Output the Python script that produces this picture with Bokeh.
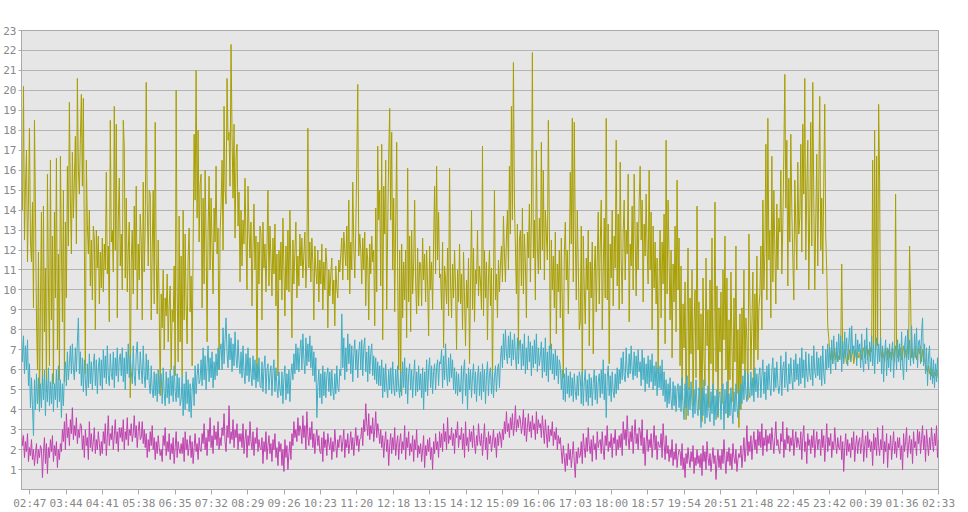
from bokeh.plotting import figure
from bokeh.models import Range1d, FixedTicker
from bokeh.embed import file_html
from bokeh.resources import INLINE

# ---------------- data ----------------
tick_labels = ["02:47", "03:44", "04:41", "05:38", "06:35", "07:32", "08:29", "09:26",
               "10:23", "11:20", "12:18", "13:15", "14:12", "15:09", "16:06", "17:03",
               "18:00", "18:57", "19:54", "20:51", "21:48", "22:45", "23:42", "00:39",
               "01:36", "02:33"]
y_ticks = list(range(1, 24))
start_time = "02:34"
span_minutes = 1439

olive = [
    15.1, 14.0, 20.2, 12.5, 15.2, 17.0, 11.4, 14.6, 18.1, 12.4, 11.4, 14.4, 9.1, 18.5, 13.9, 8.6, 6.0, 11.9, 4.0, 9.2,
    13.9, 5.2, 14.2, 7.9, 11.1, 4.9, 15.8, 10.3, 6.2, 16.5, 8.5, 12.7, 5.3, 13.9, 9.6, 16.6, 7.0, 11.8, 5.5, 16.7,
    12.0, 8.4, 15.0, 5.4, 13.4, 9.6, 16.2, 12.2, 19.4, 14.5, 11.8, 16.9, 13.6, 15.5, 17.7, 12.3, 20.6, 16.0, 14.8, 17.6,
    19.8, 15.2, 19.6, 12.3, 5.8, 16.5, 13.3, 11.8, 14.0, 10.2, 12.5, 9.5, 13.2, 12.6, 8.0, 13.0, 11.1, 12.7, 9.3, 11.9,
    10.1, 12.6, 9.9, 12.3, 11.0, 15.9, 10.8, 12.2, 8.4, 18.5, 12.4, 13.0, 10.9, 19.2, 12.0, 18.3, 8.6, 13.5, 15.6, 11.2,
    12.8, 10.0, 18.5, 17.2, 10.6, 14.6, 9.9, 12.0, 13.4, 4.6, 11.5, 13.0, 9.8, 14.2, 11.0, 15.2, 9.0, 12.3, 10.5, 13.8,
    12.5, 8.5, 15.4, 10.9, 13.2, 20.4, 14.4, 11.2, 15.0, 14.8, 8.5, 12.0, 15.0, 9.3, 18.4, 11.5, 8.8, 12.5, 9.2, 4.7,
    9.8, 8.1, 11.0, 7.0, 9.6, 8.7, 10.8, 7.4, 9.2, 10.2, 6.0, 9.0, 8.4, 11.2, 5.7, 20.0, 9.9, 6.4, 13.7, 7.4,
    11.7, 5.7, 14.0, 8.5, 12.8, 9.2, 7.3, 11.6, 13.1, 8.9, 10.7, 6.2, 12.3, 17.8, 14.5, 21.0, 13.6, 18.0, 12.4, 15.3,
    15.8, 9.1, 14.6, 10.3, 16.0, 12.5, 7.4, 13.0, 15.7, 11.0, 14.6, 12.2, 9.8, 14.1, 12.4, 16.2, 11.8, 13.1, 6.0, 12.8,
    14.3, 16.5, 12.0, 19.2, 15.0, 14.3, 20.6, 17.5, 17.9, 15.2, 22.3, 17.8, 14.6, 18.3, 12.6, 16.7, 17.3, 13.2, 14.9, 10.4,
    14.0, 11.2, 13.5, 12.3, 15.6, 12.5, 10.0, 15.2, 12.9, 11.6, 13.4, 9.2, 12.1, 14.3, 11.0, 12.7, 5.6, 12.4, 10.3, 13.2,
    12.8, 8.5, 13.4, 11.1, 12.3, 9.9, 12.1, 15.0, 10.2, 13.2, 11.5, 9.7, 12.6, 10.8, 13.3, 9.2, 11.8, 5.7, 12.0, 10.5,
    12.4, 9.5, 13.6, 11.0, 8.7, 12.2, 10.0, 13.0, 9.9, 14.0, 10.9, 7.6, 12.5, 10.3, 11.9, 13.4, 9.6, 11.7, 10.2, 12.8,
    11.2, 12.6, 10.6, 11.8, 12.9, 10.1, 11.5, 18.1, 11.1, 12.4, 10.4, 12.6, 11.3, 8.5, 12.2, 11.0, 10.3, 12.0, 9.4, 11.5,
    10.3, 12.3, 9.0, 11.4, 10.0, 12.1, 11.3, 8.1, 11.0, 9.7, 10.8, 11.6, 9.3, 10.5, 8.2, 11.2, 10.1, 9.6, 11.5, 10.9,
    11.8, 12.6, 10.5, 12.9, 12.0, 11.2, 13.2, 10.5, 14.5, 9.8, 12.4, 11.0, 15.4, 12.2, 10.6, 13.0, 16.3, 20.3, 11.7, 12.8,
    12.0, 10.3, 12.6, 11.0, 12.9, 9.2, 12.1, 11.5, 8.5, 12.3, 10.8, 12.7, 11.4, 12.0, 8.2, 14.1, 9.9, 17.2, 13.5, 15.0,
    10.2, 17.3, 7.5, 15.2, 12.8, 16.5, 9.0, 13.1, 16.7, 19.1, 13.5, 17.9, 11.0, 14.6, 8.9, 13.2, 17.4, 10.5, 6.0, 12.0,
    4.9, 12.3, 8.6, 11.4, 9.5, 12.0, 7.6, 16.1, 9.4, 12.7, 7.9, 13.0, 9.8, 11.3, 14.5, 10.4, 8.8, 12.1, 9.2, 11.4,
    11.3, 9.2, 12.6, 10.5, 11.8, 9.4, 12.0, 10.3, 7.7, 12.2, 10.0, 11.4, 9.0, 12.3, 15.2, 10.8, 16.2, 11.5, 13.9, 10.6,
    10.8, 9.0, 12.4, 7.1, 11.2, 10.5, 9.3, 12.1, 8.7, 16.1, 10.3, 8.6, 11.3, 9.6, 12.0, 10.2, 7.0, 11.0, 9.4, 12.3,
    9.3, 10.8, 8.0, 11.9, 9.6, 7.2, 10.5, 9.1, 11.6, 6.3, 10.2, 14.0, 9.0, 12.1, 8.4, 11.0, 10.3, 13.0, 9.7, 11.2,
    10.4, 9.0, 17.2, 8.7, 12.0, 9.6, 11.4, 7.5, 10.6, 12.0, 9.2, 11.1, 5.5, 10.3, 15.0, 9.5, 10.8, 8.6, 11.5, 9.9,
    11.3, 12.2, 10.4, 13.7, 11.8, 10.4, 12.6, 14.0, 11.0, 16.2, 12.8, 19.2, 13.5, 21.4, 14.4, 12.1, 9.8, 13.3, 7.0, 12.5,
    13.0, 10.2, 14.1, 9.8, 12.8, 11.3, 8.6, 12.9, 11.6, 14.3, 10.4, 13.5, 21.9, 11.6, 13.5, 9.5, 17.0, 12.2, 10.8, 13.6,
    11.0, 17.4, 12.0, 16.0, 10.5, 14.0, 12.8, 11.5, 18.5, 13.2, 7.0, 12.5, 10.0, 11.7, 9.1, 12.9, 7.8, 11.3, 9.9, 12.0,
    8.6, 12.6, 9.2, 5.6, 11.8, 13.4, 10.5, 12.0, 8.8, 11.6, 15.9, 12.3, 18.6, 10.4, 18.4, 12.7, 9.5, 14.0, 11.2, 8.0,
    8.4, 13.2, 5.2, 12.7, 10.1, 8.3, 11.6, 10.0, 13.0, 7.2, 11.4, 9.6, 12.4, 6.8, 10.9, 12.2, 8.9, 11.5, 13.9, 9.3,
    12.3, 14.5, 8.0, 11.0, 13.6, 9.6, 18.6, 9.5, 13.3, 6.3, 12.3, 10.6, 14.0, 9.2, 12.7, 11.1, 17.5, 10.2, 13.8, 9.0,
    16.4, 11.5, 9.3, 12.9, 14.5, 10.5, 13.0, 11.8, 15.8, 8.4, 12.3, 11.2, 14.2, 10.0, 15.8, 12.6, 9.7, 13.4, 11.0, 14.4,
    16.2, 12.5, 14.5, 9.4, 13.3, 11.7, 14.8, 12.0, 10.3, 16.0, 11.0, 13.9, 8.0, 13.2, 10.1, 12.4, 9.3, 11.6, 5.8, 10.5,
    13.0, 8.6, 12.4, 10.3, 13.8, 7.3, 17.5, 9.8, 14.5, 11.4, 8.5, 12.0, 6.6, 11.3, 9.4, 13.2, 7.9, 15.5, 10.0, 12.6,
    6.2, 11.2, 4.5, 9.3, 7.1, 10.4, 3.5, 8.5, 12.1, 5.0, 9.6, 6.8, 11.0, 4.2, 8.3, 10.0, 5.6, 14.2, 7.0, 9.4,
    4.0, 8.8, 3.4, 10.6, 6.5, 5.2, 11.6, 7.2, 9.0, 4.1, 10.5, 6.3, 12.6, 4.3, 8.0, 14.4, 5.9, 10.2, 3.6, 9.1,
    6.9, 9.9, 4.3, 11.0, 7.5, 12.7, 6.0, 10.6, 3.6, 8.5, 5.5, 10.9, 7.2, 4.4, 9.6, 6.4, 12.2, 4.8, 8.0, 3.1,
    8.8, 4.0, 9.1, 6.3, 11.0, 5.5, 8.6, 7.5, 4.5, 12.8, 9.5, 6.0, 8.3, 10.9, 5.1, 9.8, 7.0, 11.7, 6.5, 9.1,
    9.8, 12.2, 8.0, 14.5, 10.0, 11.9, 17.3, 9.5, 18.6, 11.5, 13.0, 8.6, 16.7, 10.4, 15.0, 12.1, 9.3, 14.3, 11.0, 13.6,
    12.9, 16.0, 10.8, 13.3, 16.8, 20.8, 14.1, 17.5, 10.2, 15.6, 12.4, 17.8, 14.0, 11.6, 9.5, 15.5, 13.2, 11.0, 16.4, 12.8,
    13.6, 17.3, 11.9, 18.3, 14.8, 20.6, 11.5, 15.0, 17.5, 10.0, 13.8, 18.4, 12.2, 20.4, 14.6, 10.0, 13.5, 16.8, 11.2, 15.2,
    19.7, 12.0, 14.6, 10.8, 15.4, 19.3, 12.7, 11.0, 8.2, 7.6, 6.9, 6.5, 7.0, 6.3, 6.8, 7.1, 6.5, 6.9, 6.4, 6.7,
    6.5, 7.0, 11.3, 6.8, 6.4, 7.0, 6.6, 6.3, 6.8, 6.5, 7.0, 6.4, 6.7, 7.1, 6.3, 6.6, 7.0, 6.5, 6.9, 6.6,
    6.7, 7.0, 6.5, 6.9, 7.1, 6.6, 6.8, 7.2, 6.5, 7.0, 6.7, 7.1, 6.9, 16.5, 7.3, 18.0, 7.0, 16.7, 7.2, 19.3,
    15.5, 7.0, 6.6, 7.0, 6.7, 6.4, 7.1, 6.8, 6.5, 7.0, 6.6, 6.9, 6.5, 7.1, 6.7, 6.4, 14.8, 6.9, 6.6, 7.0,
    6.7, 7.1, 6.5, 6.9, 7.2, 6.6, 7.0, 6.6, 7.2, 6.8, 12.2, 9.7, 6.6, 7.0, 6.5, 6.9, 7.2, 6.5, 6.8, 7.1,
    6.8, 7.2, 6.4, 7.0, 6.6, 6.5, 6.3, 6.0, 5.9, 6.2, 5.8, 6.1, 5.7, 6.0, 5.6, 5.9, 5.7, 6.0, 5.8, 5.6,
]

cyan = [
    7.8, 6.4, 7.7, 5.8, 7.2, 6.0, 7.5, 5.2, 6.3, 4.1, 5.6, 4.2, 2.7, 5.5, 4.0, 5.8, 4.3, 5.6, 3.9, 5.3,
    4.1, 5.7, 4.5, 6.0, 3.7, 5.5, 4.4, 6.1, 4.2, 5.4, 4.3, 5.8, 3.9, 5.3, 4.5, 6.0, 4.1, 6.2, 4.4, 5.5,
    3.6, 5.3, 4.2, 5.8, 6.4, 5.2, 6.9, 5.5, 6.3, 7.2, 5.8, 7.3, 6.0, 5.5, 7.1, 5.9, 7.4, 8.6, 5.8, 6.9,
    5.2, 6.6, 4.9, 6.5, 5.5, 4.7, 6.3, 5.1, 6.8, 5.3, 6.4, 5.0, 6.2, 6.8, 5.2, 6.5, 4.8, 6.1, 6.6, 5.2,
    6.5, 5.0, 7.0, 5.6, 6.7, 5.3, 7.2, 5.7, 5.2, 6.8, 5.8, 5.5, 6.9, 5.1, 6.6, 5.7, 7.1, 5.4, 6.5, 6.8,
    5.7, 7.1, 5.4, 6.6, 5.0, 6.9, 5.8, 7.3, 5.6, 6.7, 5.9, 5.3, 7.2, 5.7, 5.2, 6.8, 7.4, 6.0, 5.5, 6.9,
    6.0, 5.3, 7.2, 5.7, 5.1, 6.8, 5.5, 6.5, 5.3, 4.8, 6.2, 5.0, 4.6, 5.9, 4.7, 5.8, 4.4, 6.0, 4.8, 5.7,
    5.8, 4.3, 6.1, 4.8, 4.2, 5.9, 4.6, 5.6, 4.3, 6.0, 4.7, 5.7, 4.4, 6.2, 4.9, 4.4, 5.8, 4.6, 5.6, 4.2,
    4.5, 5.7, 3.7, 5.3, 4.0, 5.9, 4.3, 5.5, 3.9, 5.3, 3.6, 5.0, 5.6, 4.2, 6.2, 4.8, 5.7, 6.3, 5.3, 5.5,
    6.5, 5.2, 7.1, 5.5, 6.7, 5.0, 6.3, 7.2, 5.4, 6.6, 5.6, 6.9, 5.1, 6.4, 5.5, 6.8, 5.7, 7.1, 6.0, 7.0,
    7.3, 6.0, 8.1, 6.3, 7.5, 8.6, 6.8, 6.1, 7.8, 6.5, 7.6, 5.9, 7.3, 6.2, 7.9, 6.6, 6.1, 7.5, 6.4, 5.8,
    6.9, 5.6, 7.2, 5.9, 5.3, 6.8, 5.7, 7.1, 5.4, 6.6, 5.8, 5.2, 6.7, 5.5, 6.5, 5.1, 6.3, 5.4, 6.6, 5.2,
    5.1, 6.4, 4.9, 6.1, 6.7, 4.8, 6.0, 6.3, 5.0, 5.8, 6.2, 4.7, 5.9, 6.5, 4.9, 6.1, 5.1, 4.6, 5.9, 5.0,
    4.7, 5.9, 4.3, 5.6, 6.2, 4.5, 5.8, 4.8, 6.0, 4.4, 5.7, 6.3, 5.5, 6.8, 5.8, 7.3, 6.0, 7.1, 5.9, 6.9,
    7.5, 6.0, 7.8, 6.5, 5.8, 7.6, 6.2, 7.3, 6.4, 7.7, 6.1, 7.2, 5.7, 6.9, 5.4, 6.6, 3.6, 5.2, 6.0, 4.6,
    5.8, 4.3, 6.2, 4.7, 5.9, 4.6, 5.7, 6.1, 4.9, 5.9, 4.7, 6.0, 5.0, 4.5, 5.8, 4.8, 6.2, 5.1, 4.9, 6.0,
    5.7, 8.8, 6.1, 7.6, 5.5, 7.1, 5.9, 7.8, 6.3, 7.3, 5.8, 7.2, 5.4, 6.8, 7.5, 6.0, 7.0, 5.6, 6.9, 7.4,
    6.0, 7.5, 5.7, 7.1, 7.6, 5.9, 6.9, 5.4, 7.2, 5.8, 6.8, 7.3, 5.7, 6.7, 5.5, 6.6, 5.3, 6.4, 5.2, 6.2,
    5.2, 6.5, 4.6, 6.1, 4.9, 6.3, 5.1, 4.6, 6.0, 5.0, 6.1, 4.8, 6.4, 5.2, 4.7, 6.0, 4.9, 6.2, 5.1, 4.6,
    5.9, 4.7, 6.4, 5.1, 6.6, 4.8, 6.1, 4.3, 5.8, 6.3, 5.0, 6.0, 4.6, 5.7, 6.5, 4.7, 5.9, 4.9, 6.2, 5.0,
    5.8, 4.6, 6.1, 4.0, 5.9, 4.9, 6.5, 4.7, 6.0, 6.6, 5.1, 6.2, 4.8, 5.9, 6.3, 5.0, 6.1, 6.5, 5.2, 6.4,
    6.3, 7.0, 5.1, 6.7, 5.5, 7.3, 5.8, 5.2, 6.6, 5.4, 6.8, 5.6, 6.5, 5.0, 6.1, 4.8, 5.9, 4.7, 5.8, 4.9,
    4.9, 6.2, 4.3, 5.9, 6.5, 4.7, 5.8, 4.0, 6.1, 5.0, 6.0, 4.6, 5.7, 6.3, 4.8, 5.9, 4.4, 5.6, 6.2, 4.7,
    5.9, 4.5, 6.3, 4.9, 6.0, 4.3, 5.7, 6.4, 4.7, 5.8, 6.1, 4.8, 5.9, 4.6, 5.6, 6.2, 4.9, 6.0, 6.3, 5.1,
    6.5, 7.2, 6.1, 7.8, 6.5, 8.0, 6.8, 6.3, 7.7, 6.6, 7.9, 6.2, 7.5, 6.5, 7.8, 6.7, 6.0, 7.6, 6.3, 7.4,
    7.5, 6.0, 7.3, 6.2, 7.8, 5.8, 7.1, 6.0, 7.7, 6.4, 7.4, 5.7, 7.2, 6.1, 7.5, 6.3, 7.8, 5.9, 7.1, 6.2,
    6.7, 7.4, 5.6, 7.1, 5.9, 7.6, 5.7, 6.9, 5.4, 7.2, 6.0, 7.3, 5.8, 6.8, 5.5, 7.0, 5.7, 6.7, 5.3, 6.5,
    6.2, 5.0, 6.0, 4.5, 5.8, 4.4, 6.1, 4.8, 5.7, 4.6, 5.9, 4.7, 5.6, 4.4, 5.8, 4.9, 4.5, 5.7, 4.7, 5.9,
    5.6, 4.3, 5.9, 4.2, 5.4, 6.0, 4.4, 5.5, 4.2, 5.8, 4.6, 5.6, 4.2, 5.3, 6.0, 4.5, 5.7, 4.3, 5.4, 5.8,
    4.6, 6.0, 4.8, 6.5, 4.5, 5.8, 3.6, 5.6, 6.2, 4.7, 5.7, 4.4, 5.9, 4.9, 4.6, 5.8, 4.8, 6.1, 5.0, 6.0,
    5.3, 6.6, 5.5, 6.9, 5.7, 5.4, 7.1, 5.9, 5.6, 6.8, 5.8, 7.2, 6.0, 5.5, 6.9, 5.7, 6.7, 5.6, 7.0, 5.9,
    6.4, 5.2, 7.0, 5.5, 6.6, 4.9, 6.3, 5.3, 6.7, 5.1, 6.5, 5.4, 6.8, 5.0, 6.2, 5.2, 6.4, 4.7, 6.1, 5.1,
    6.2, 5.0, 6.5, 4.7, 5.9, 4.4, 5.5, 4.1, 5.3, 4.3, 5.6, 4.5, 4.0, 5.4, 4.2, 5.2, 3.9, 5.0, 5.3, 4.1,
    5.2, 3.9, 5.6, 4.2, 3.5, 5.3, 4.1, 5.7, 3.7, 5.1, 4.0, 5.4, 4.3, 3.6, 5.0, 3.8, 5.5, 4.2, 3.7, 5.1,
    4.6, 3.1, 5.1, 3.7, 5.5, 3.3, 4.8, 3.6, 5.2, 3.9, 3.4, 4.9, 3.8, 5.3, 3.2, 4.7, 3.5, 5.0, 3.7, 4.8,
    4.9, 3.5, 4.7, 5.3, 3.0, 5.0, 3.8, 5.4, 3.6, 4.8, 3.7, 5.1, 4.0, 3.3, 4.9, 3.9, 5.3, 4.1, 3.6, 5.0,
    4.0, 5.3, 4.3, 5.7, 4.5, 6.0, 4.8, 4.4, 5.8, 4.9, 4.6, 5.9, 4.7, 5.6, 4.4, 6.1, 4.9, 5.8, 4.6, 5.7,
    6.1, 4.6, 5.7, 6.5, 4.8, 5.9, 4.5, 6.2, 5.0, 6.3, 5.2, 4.7, 6.0, 6.6, 4.9, 6.1, 5.1, 6.4, 5.3, 4.8,
    5.2, 6.7, 4.7, 6.1, 6.4, 5.1, 6.9, 5.4, 4.9, 6.3, 5.3, 6.6, 5.6, 5.0, 6.5, 5.4, 6.8, 5.5, 6.3, 5.2,
    6.6, 5.3, 7.1, 5.6, 6.5, 5.1, 6.9, 5.7, 5.4, 6.8, 5.8, 5.5, 6.7, 5.2, 7.2, 5.9, 5.6, 6.9, 5.7, 6.6,
    5.5, 6.7, 5.2, 7.2, 5.8, 5.3, 7.0, 6.0, 7.3, 6.1, 7.1, 5.8, 7.5, 6.3, 7.7, 6.6, 6.0, 7.4, 6.4, 7.8,
    6.5, 7.7, 5.9, 7.4, 6.3, 7.9, 6.6, 7.6, 6.2, 7.3, 8.1, 6.4, 8.2, 6.8, 7.2, 6.6, 7.8, 6.2, 7.5, 6.9,
    7.3, 6.1, 7.8, 6.5, 5.9, 7.5, 6.3, 8.1, 6.6, 6.0, 7.4, 6.4, 7.7, 6.2, 7.3, 5.8, 7.1, 7.6, 6.3, 7.3,
    6.4, 7.6, 5.8, 7.2, 5.4, 6.8, 7.5, 5.7, 7.1, 6.1, 7.3, 5.9, 6.9, 7.4, 5.6, 6.8, 7.2, 6.0, 7.5, 6.4,
    7.3, 6.0, 7.9, 6.3, 5.5, 7.2, 7.7, 5.9, 8.0, 6.5, 7.5, 6.2, 8.2, 6.7, 6.3, 7.8, 6.6, 8.1, 6.1, 7.4,
    7.5, 6.3, 7.8, 8.6, 6.2, 7.3, 5.8, 7.1, 5.2, 6.7, 7.2, 5.5, 6.6, 5.3, 6.5, 5.1, 6.3, 5.4, 6.6, 5.3,
]

magenta = [
    2.9, 2.2, 2.7, 1.6, 2.4, 1.9, 2.8, 1.4, 2.1, 1.7, 2.5, 1.5, 2.0, 1.2, 1.8, 2.3, 1.3, 2.0, 1.6, 2.2,
    2.0, 0.6, 1.8, 2.6, 1.3, 2.3, 0.8, 2.1, 1.6, 2.5, 1.9, 2.7, 1.4, 2.2, 1.7, 2.4, 1.1, 2.0, 1.5, 2.3,
    1.9, 3.0, 2.4, 3.4, 2.0, 3.8, 2.6, 3.1, 2.2, 3.5, 2.8, 4.1, 2.5, 3.2, 2.7, 3.6, 2.3, 3.0, 2.6, 3.3,
    3.2, 2.0, 2.7, 1.6, 3.0, 2.2, 2.6, 1.5, 3.4, 2.1, 2.8, 1.9, 2.4, 3.1, 1.8, 2.5, 2.0, 2.9, 2.3, 1.7,
    2.4, 1.8, 2.9, 2.3, 3.3, 1.7, 2.6, 3.7, 2.2, 2.8, 2.5, 3.2, 2.0, 2.7, 3.5, 2.3, 2.9, 1.9, 3.1, 2.6,
    3.1, 2.4, 3.5, 2.0, 2.9, 2.5, 3.6, 2.2, 3.0, 2.7, 3.3, 2.4, 2.8, 3.7, 2.6, 3.2, 2.1, 2.9, 3.4, 2.5,
    2.6, 3.4, 2.3, 3.0, 2.1, 2.8, 1.6, 2.5, 1.9, 2.9, 2.2, 3.2, 2.0, 2.6, 1.5, 2.4, 1.8, 2.7, 2.1, 1.7,
    2.0, 1.4, 2.7, 2.2, 3.1, 1.7, 2.4, 1.9, 2.8, 1.5, 2.3, 1.8, 2.6, 1.3, 2.1, 2.9, 1.6, 2.4, 2.0, 1.8,
    2.3, 1.8, 2.6, 1.4, 2.9, 2.0, 2.5, 1.7, 2.2, 2.7, 1.6, 2.4, 1.3, 2.1, 2.8, 1.9, 2.3, 1.5, 2.6, 2.0,
    1.9, 2.8, 2.3, 3.3, 2.0, 2.6, 1.7, 3.0, 2.4, 3.6, 2.1, 2.7, 1.8, 3.2, 2.5, 2.9, 2.2, 3.4, 2.0, 2.6,
    2.2, 3.1, 2.7, 3.8, 2.4, 1.9, 3.2, 2.6, 4.2, 2.3, 2.9, 2.5, 3.5, 2.1, 3.0, 2.6, 3.3, 2.0, 2.8, 2.4,
    2.8, 2.1, 3.3, 1.8, 2.5, 3.0, 1.6, 2.7, 2.2, 3.4, 2.4, 2.0, 2.9, 1.7, 2.6, 2.3, 3.1, 1.9, 2.5, 2.1,
    2.0, 2.6, 1.3, 2.4, 1.9, 2.9, 1.5, 2.2, 2.7, 1.8, 2.3, 1.4, 2.5, 2.0, 2.8, 1.6, 2.1, 1.2, 2.4, 1.9,
    2.3, 1.2, 2.0, 0.9, 2.5, 1.6, 2.2, 1.0, 1.8, 2.4, 1.5, 2.8, 2.2, 3.4, 2.6, 3.0, 2.4, 3.6, 2.7, 3.2,
    3.0, 2.3, 3.7, 2.6, 3.2, 2.0, 3.9, 2.7, 2.2, 3.1, 2.5, 3.4, 2.1, 2.8, 1.8, 2.6, 3.0, 2.2, 2.7, 1.9,
    1.8, 2.6, 1.4, 2.9, 2.1, 2.5, 1.7, 2.8, 2.3, 2.0, 2.6, 1.5, 2.4, 1.9, 3.0, 2.2, 1.6, 2.5, 2.1, 2.7,
    2.7, 1.9, 2.4, 3.0, 1.6, 2.5, 2.1, 2.8, 1.8, 2.3, 2.9, 2.0, 2.6, 1.7, 2.4, 3.1, 2.2, 2.7, 1.9, 2.5,
    2.6, 3.1, 2.2, 3.5, 2.9, 4.3, 3.3, 2.7, 3.8, 2.5, 3.2, 2.8, 3.6, 2.4, 3.0, 3.9, 2.6, 3.3, 2.9, 2.3,
    3.0, 2.1, 2.7, 1.6, 2.4, 2.9, 1.9, 2.5, 1.2, 2.2, 2.8, 1.8, 2.6, 2.0, 3.1, 1.7, 2.3, 2.7, 1.5, 2.4,
    2.8, 1.8, 2.4, 2.0, 3.2, 1.5, 2.6, 2.1, 2.9, 1.7, 2.3, 1.9, 2.7, 1.4, 2.5, 2.0, 3.0, 1.6, 2.2, 1.8,
    2.3, 1.4, 2.0, 2.7, 1.1, 2.2, 1.7, 2.5, 1.9, 2.6, 1.5, 2.1, 1.0, 2.4, 1.8, 2.8, 2.0, 2.4, 1.6, 2.9,
    2.1, 2.8, 1.9, 3.3, 2.4, 2.9, 2.0, 3.6, 2.3, 2.7, 2.5, 3.1, 2.2, 2.8, 1.8, 3.0, 2.6, 3.4, 2.1, 2.7,
    2.5, 3.1, 2.0, 2.8, 1.6, 3.4, 2.2, 2.6, 1.9, 3.0, 2.4, 2.9, 2.1, 3.2, 2.3, 1.8, 2.7, 2.2, 3.3, 2.5,
    2.2, 2.8, 1.7, 2.5, 3.3, 2.0, 2.6, 1.5, 2.9, 2.3, 2.7, 1.9, 2.4, 3.0, 2.1, 2.6, 1.6, 2.8, 2.2, 2.9,
    2.7, 2.1, 3.0, 2.5, 3.4, 2.8, 3.9, 2.9, 3.3, 2.6, 3.6, 3.0, 3.8, 2.7, 3.2, 4.2, 2.9, 3.5, 3.1, 3.7,
    3.5, 2.8, 3.2, 4.0, 2.7, 3.6, 2.4, 3.1, 3.8, 2.9, 3.4, 2.6, 3.7, 3.0, 3.3, 2.5, 3.9, 2.8, 3.5, 3.1,
    3.3, 2.6, 3.7, 3.0, 2.3, 3.5, 2.8, 2.1, 3.2, 2.4, 3.0, 2.7, 3.4, 2.2, 2.9, 2.5, 3.1, 2.0, 2.7, 2.3,
    2.6, 1.9, 1.3, 2.2, 1.6, 0.9, 1.8, 1.2, 2.3, 1.5, 2.0, 1.1, 1.7, 2.4, 1.4, 0.6, 1.9, 1.3, 2.1, 1.6,
    1.7, 2.4, 1.3, 2.8, 2.1, 1.6, 2.6, 1.9, 3.1, 2.2, 1.8, 2.5, 1.4, 2.7, 2.0, 2.3, 1.5, 2.9, 2.1, 2.4,
    2.5, 1.8, 2.9, 2.0, 1.5, 2.7, 2.2, 3.2, 1.9, 2.4, 2.1, 2.8, 1.6, 2.6, 2.3, 3.0, 1.7, 2.5, 2.0, 2.7,
    2.1, 2.8, 1.7, 3.4, 2.5, 3.0, 2.2, 3.7, 2.6, 2.0, 2.9, 2.4, 3.2, 1.8, 2.7, 3.5, 2.3, 2.8, 2.0, 3.1,
    2.9, 2.2, 3.5, 1.8, 2.6, 1.2, 2.4, 3.0, 1.9, 2.5, 2.1, 2.8, 1.6, 2.3, 3.2, 2.0, 2.7, 1.5, 2.4, 2.2,
    2.1, 2.8, 1.6, 3.3, 2.3, 1.5, 2.7, 1.8, 2.2, 1.4, 2.0, 1.6, 2.5, 1.2, 1.9, 1.5, 2.3, 1.1, 1.7, 2.0,
    1.9, 1.2, 2.3, 1.0, 1.6, 0.6, 1.8, 1.3, 2.1, 1.5, 1.1, 1.9, 1.4, 2.2, 0.8, 1.6, 1.2, 2.0, 1.3, 1.7,
    1.1, 1.8, 0.7, 2.2, 1.4, 1.9, 1.0, 2.4, 1.6, 1.2, 1.8, 0.9, 1.5, 2.1, 1.3, 1.7, 0.5, 1.4, 2.0, 1.1,
    1.7, 1.0, 2.0, 1.3, 2.5, 1.5, 0.8, 1.9, 1.4, 2.1, 1.2, 1.8, 1.0, 2.3, 1.6, 1.3, 2.0, 0.9, 1.5, 1.8,
    1.6, 2.2, 1.1, 1.8, 2.6, 1.4, 2.0, 3.2, 1.7, 2.4, 1.9, 2.7, 1.5, 2.3, 2.9, 2.0, 2.5, 1.8, 3.0, 2.2,
    2.9, 2.1, 3.3, 1.7, 2.6, 2.2, 3.0, 1.9, 2.7, 2.3, 2.8, 2.0, 3.1, 2.4, 1.8, 2.6, 3.4, 2.2, 2.5, 2.0,
    1.8, 2.8, 2.4, 3.4, 1.6, 2.5, 2.0, 3.1, 2.3, 2.7, 1.9, 2.6, 2.2, 3.0, 1.7, 2.4, 2.9, 2.1, 2.6, 2.3,
    2.0, 2.9, 1.5, 2.6, 3.2, 1.9, 2.4, 1.3, 2.8, 2.2, 2.5, 1.8, 2.7, 2.1, 3.0, 1.6, 2.3, 2.9, 2.0, 2.5,
    2.5, 1.7, 3.0, 2.1, 2.7, 1.4, 2.3, 3.3, 1.9, 2.6, 2.2, 2.8, 1.6, 2.4, 2.0, 3.1, 2.3, 1.8, 2.6, 2.1,
    2.0, 2.7, 1.5, 2.4, 0.9, 2.1, 2.8, 1.7, 2.5, 1.9, 2.3, 1.6, 2.6, 2.0, 2.9, 1.4, 2.2, 2.7, 1.8, 2.4,
    2.6, 1.8, 2.3, 3.0, 1.4, 2.2, 2.7, 1.6, 2.9, 2.1, 2.5, 1.9, 2.4, 1.2, 2.8, 2.0, 2.6, 1.7, 3.1, 2.2,
    1.7, 2.5, 2.0, 3.2, 1.3, 2.4, 1.9, 2.8, 1.1, 2.3, 2.0, 2.7, 1.5, 2.2, 2.9, 1.8, 2.4, 1.6, 2.6, 2.1,
    2.6, 1.5, 2.2, 1.0, 2.8, 1.9, 2.4, 3.1, 1.6, 2.2, 2.7, 1.8, 2.5, 1.3, 2.9, 2.1, 2.4, 1.7, 3.0, 2.3,
    2.9, 1.8, 2.5, 3.2, 2.0, 2.7, 1.4, 3.0, 2.3, 1.7, 2.6, 2.0, 3.1, 2.4, 1.9, 2.8, 2.2, 3.2, 1.6, 2.5,
]

series_colors = ["#a89f00", "#41adc4", "#c042b0"]


# ---------------- helpers ----------------
def to_minutes(hhmm):
    h, m = hhmm.split(":")
    return int(h) * 60 + int(m)


t0 = to_minutes(start_time)


def tick_position(lbl):
    v = to_minutes(lbl)
    if v < t0:
        v += 1440
    return v


def time_axis(values):
    k = len(values)
    return [t0 + i * span_minutes / (k - 1) for i in range(k)]


tick_pos = [tick_position(l) for l in tick_labels]

# ---------------- figure ----------------
FONT = "DejaVu Sans Mono"
p = figure(width=968, height=512, output_backend="svg", toolbar_location=None,
           x_range=Range1d(t0, t0 + span_minutes), y_range=Range1d(0, 23),
           min_border_left=0, min_border_right=30, min_border_top=30, min_border_bottom=0)

p.background_fill_color = "#e6e6e6"
p.border_fill_color = "white"
p.outline_line_color = "#aaaaaa"
p.outline_line_width = 1

p.xgrid.visible = False
p.ygrid.grid_line_color = "#b4b4b4"
p.ygrid.grid_line_width = 1

p.yaxis.ticker = FixedTicker(ticks=y_ticks)
p.xaxis.ticker = FixedTicker(ticks=tick_pos)
p.xaxis.major_label_overrides = {tp: lbl for tp, lbl in zip(tick_pos, tick_labels)}

for ax in (p.xaxis[0], p.yaxis[0]):
    ax.axis_line_color = "#aaaaaa"
    ax.major_tick_line_color = "#aaaaaa"
    ax.minor_tick_line_color = None
    ax.major_tick_in = 0
    ax.major_label_text_font = FONT
    ax.major_label_text_font_size = "11px"
    ax.major_label_text_color = "#888888"

p.yaxis.major_tick_out = 3
p.yaxis.major_label_standoff = 2
p.xaxis.major_tick_out = 5
p.xaxis.major_label_standoff = 2

for ys, col in zip([olive, cyan, magenta], series_colors):
    p.line(time_axis(ys), ys, line_color=col, line_width=1)

open("out.html", "w").write(file_html(p, INLINE))
